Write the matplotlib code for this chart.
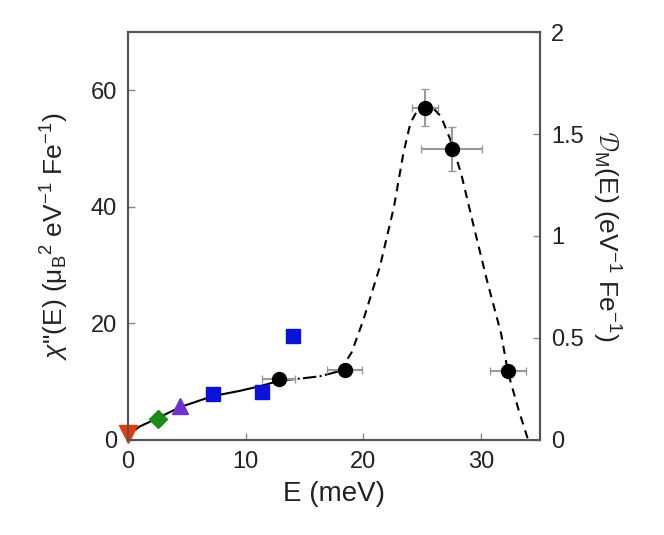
import matplotlib
matplotlib.use('Agg')
import matplotlib.pyplot as plt

plt.rcParams['font.family'] = ['Liberation Sans', 'DejaVu Sans']
plt.rcParams['mathtext.fontset'] = 'custom'
plt.rcParams['mathtext.rm'] = 'Liberation Sans'
plt.rcParams['mathtext.it'] = 'Liberation Sans:italic'

# curve
solid_x = [0, 1, 2.5, 4.4, 7.2, 9.5, 11.2, 13.0]
solid_y = [0.8, 2.3, 3.7, 5.6, 7.5, 8.4, 9.2, 10.2]
dashdot_x = [13.0, 14.6, 16.3, 18.0]
dashdot_y = [10.2, 10.5, 10.9, 11.8]
dashed_x = [18.0, 19.0, 20.0, 21.4, 22.6, 23.4, 24.0, 24.6, 25.3, 26.0, 26.6, 27.4, 28.3, 29.4, 30.5, 31.7, 32.3, 33.2, 34.0]
dashed_y = [11.8, 15.0, 20.6, 29.7, 40.0, 49.2, 54.4, 56.6, 57.2, 56.8, 55.5, 51.5, 45.8, 36.5, 27.4, 18.3, 11.5, 5.1, 0.0]

# data points
tri_dn = ([0.0], [1.0])
diamond = ([2.55], [3.6])
tri_up = ([4.4], [5.8])
sq_x = [7.2, 11.4, 14.0]
sq_y = [7.9, 8.2, 17.8]
circ_x = [12.8, 18.4, 25.2, 27.5, 32.3]
circ_y = [10.5, 12.0, 57.0, 49.9, 11.8]
circ_xerr = [1.4, 1.5, 1.1, 2.6, 1.5]
circ_yerr = [0.0, 0.0, 3.2, 3.8, 0.0]

fig = plt.figure(figsize=(6.64, 5.35), dpi=100)
ax = fig.add_axes([0.193, 0.178, 0.62, 0.762])

ax.plot(solid_x, solid_y, '-', color='k', lw=1.5, zorder=2)
ax.plot(dashdot_x, dashdot_y, '-.', color='k', lw=1.5, zorder=2)
ax.plot(dashed_x, dashed_y, '--', color='k', lw=1.5, dashes=(4, 3), zorder=2)

ax.errorbar(circ_x, circ_y, xerr=circ_xerr, yerr=circ_yerr, fmt='o', color='k',
            ms=10, ecolor='#999999', elinewidth=1.5, capsize=3, zorder=4)
ax.plot(sq_x, sq_y, 's', color='#0a14d8', ms=10, zorder=3)
ax.plot(*tri_up, '^', color='#7030d0', ms=11, zorder=3, clip_on=False)
ax.plot(*diamond, 'D', color='#1a8a1a', ms=9, zorder=3, clip_on=False)
ax.plot(*tri_dn, 'v', color='#e03c0c', ms=13, zorder=5, clip_on=False)

ax.set_xlim(0, 35)
ax.set_ylim(0, 70)
ax.set_xticks([0, 10, 20, 30])
ax.set_yticks([0, 20, 40, 60])
ax.tick_params(direction='in', length=5, width=1, color='#888888', labelsize=17,
               pad=8, labelcolor='#222222')
for s in ax.spines.values():
    s.set_color('#555555')
    s.set_linewidth(1.5)

ax.set_xlabel('E (meV)', fontsize=20, color='#222222', labelpad=6)
ax.set_ylabel(r'$\chi$"(E) ($\mathregular{\mu_B}^{\mathregular{2}}$ eV$^{\mathregular{-1}}$ Fe$^{\mathregular{-1}}$)',
              fontsize=19, color='#222222', labelpad=14)

ax2 = ax.twinx()
ax2.set_ylim(0, 2)
ax2.set_yticks([0, 0.5, 1, 1.5, 2])
ax2.set_yticklabels(['0', '0.5', '1', '1.5', '2'])
ax2.tick_params(direction='in', length=5, width=1, color='#888888', labelsize=17,
                pad=8, labelcolor='#222222')
for s in ax2.spines.values():
    s.set_color('#555555')
    s.set_linewidth(1.5)
ax2.set_ylabel(r'$\mathcal{D}_{\mathregular{M}}$(E) (eV$^{\mathregular{-1}}$ Fe$^{\mathregular{-1}}$)',
               fontsize=19, rotation=270, labelpad=28, color='#222222')

fig.savefig('out.png', dpi=100)
